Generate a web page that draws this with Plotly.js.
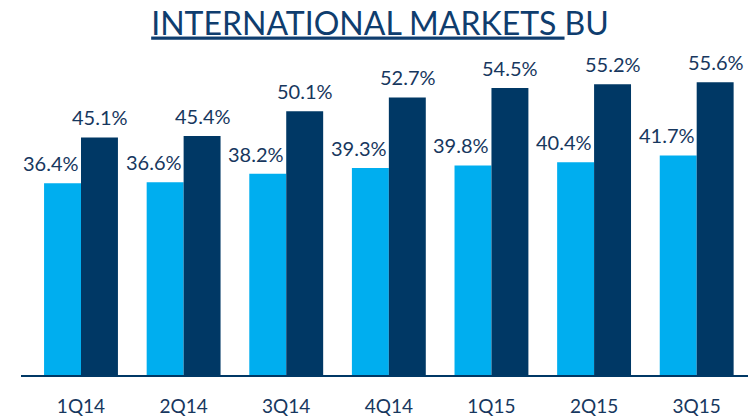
<!DOCTYPE html>
<html>
<head>
<meta charset="utf-8">
<script src="https://cdn.plot.ly/plotly-3.0.1.min.js"></script>
<style>html,body{margin:0;padding:0;background:#fff;}#chart{width:748px;height:417px;}</style>
</head>
<body>
<div id="chart"></div>
<script>
const categories = ['1Q14','2Q14','3Q14','4Q14','1Q15','2Q15','3Q15'];
const seriesLight = [36.4, 36.6, 38.2, 39.3, 39.8, 40.4, 41.7];
const seriesDark = [45.1, 45.4, 50.1, 52.7, 54.5, 55.2, 55.6];
const titleText = '<u>INTERNATIONAL MARKETS&nbsp;</u>BU';

const LIGHT = '#00AEEF';
const DARK = '#003865';
const TEXT = '#17375E';
const FONT = 'Lato, "Noto Sans", sans-serif';

const traces = [
  {type:'bar', x:categories, y:seriesLight, marker:{color:LIGHT}, hoverinfo:'skip'},
  {type:'bar', x:categories, y:seriesDark, marker:{color:DARK}, hoverinfo:'skip'}
];

const annotations = [];
categories.forEach((c,i)=>{
  annotations.push({x:c, y:seriesLight[i], xref:'x', yref:'y', text:seriesLight[i].toFixed(1)+'%',
    showarrow:false, xanchor:'center', yanchor:'bottom', xshift:-30, yshift:6,
    font:{family:FONT, size:20, color:TEXT}});
  annotations.push({x:c, y:seriesDark[i], xref:'x', yref:'y', text:seriesDark[i].toFixed(1)+'%',
    showarrow:false, xanchor:'center', yanchor:'bottom', xshift:19, yshift:6,
    font:{family:FONT, size:20, color:TEXT}});
});

const layout = {
  width:748, height:417,
  margin:{l:21, r:0, t:59, b:42},
  paper_bgcolor:'#fff', plot_bgcolor:'#fff',
  showlegend:false,
  barmode:'group', bargap:0.28, bargroupgap:0,
  title:{text:titleText, x:0.508, xanchor:'center', y:0.944, yanchor:'middle', yref:'container',
    font:{family:FONT, size:32, color:'#0F3D6E'}},
  xaxis:{type:'category', showline:true, linecolor:DARK, linewidth:2, ticks:'', showgrid:false,
    zeroline:false, ticklabelstandoff:13, tickfont:{family:FONT, size:19, color:TEXT}, fixedrange:true},
  yaxis:{range:[0,60], visible:false, showgrid:false, zeroline:false, fixedrange:true},
  annotations:annotations
};

Plotly.newPlot('chart', traces, layout, {displayModeBar:false, staticPlot:true});
</script>
</body>
</html>
